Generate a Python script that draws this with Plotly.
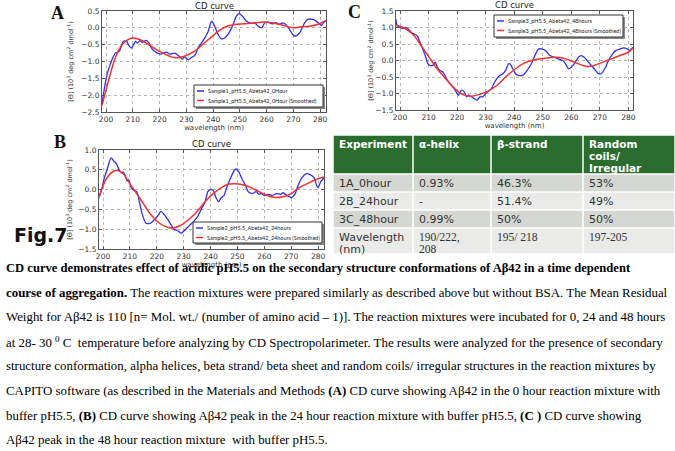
import plotly.graph_objects as go

W, H = 675, 451

# ---------------- data ----------------
# Panel A (0 hour)
a_raw_x = [198.5, 199.5, 200.5, 201.5, 202.5, 203.5, 204.3, 205.0, 205.7, 206.5, 207.7, 208.5, 209.5, 210.3, 211.0, 211.7, 212.7, 213.6, 215.0, 216.0, 217.0, 218.2, 219.5, 220.5, 221.4, 222.6, 223.8, 225.7, 227.0, 227.6, 228.6, 229.3, 230.7, 231.9, 233.2, 234.4, 235.7, 236.9, 238.2, 239.0, 239.5, 240.6, 241.9, 243.1, 244.3, 245.3, 246.2, 247.5, 248.7, 249.7, 250.9, 252.4, 254.3, 255.5, 256.8, 258.2, 259.3, 260.5, 262.0, 263.6, 264.8, 266.0, 267.2, 268.6, 269.8, 270.8, 272.3, 274.2, 275.4, 277.3, 278.5, 280.0, 280.6, 281.2, 282.2]
a_raw_y = [-2.25, -1.75, -1.35, -1.1, -0.9, -0.75, -0.72, -0.7, -0.55, -0.4, -0.4, -0.52, -0.6, -0.5, -0.4, -0.45, -0.38, -0.43, -0.37, -0.45, -0.6, -0.7, -0.76, -0.78, -0.75, -0.72, -0.78, -0.75, -0.82, -0.86, -0.93, -0.86, -0.95, -0.88, -0.82, -0.6, -0.45, -0.3, -0.1, 0.12, 0.2, 0.05, -0.2, -0.33, -0.3, -0.22, -0.12, 0.1, 0.35, 0.42, 0.35, 0.2, 0.13, 0.15, 0.05, 0.0, 0.15, 0.17, 0.12, 0.15, 0.1, 0.15, 0.1, -0.05, -0.2, -0.25, -0.15, 0.15, 0.25, 0.25, 0.2, 0.1, 0.07, 0.15, 0.22]
a_smooth_x = [198.5, 200.0, 201.5, 203.0, 204.5, 206.0, 208.0, 210.0, 213.0, 216.0, 220.0, 224.0, 226.0, 229.0, 233.0, 236.0, 239.0, 242.0, 245.0, 248.0, 252.0, 256.0, 259.0, 262.0, 265.0, 268.0, 270.0, 273.0, 276.0, 279.0, 282.2]
a_smooth_y = [-2.3, -1.85, -1.4, -1.0, -0.7, -0.5, -0.36, -0.3, -0.36, -0.5, -0.7, -0.85, -0.89, -0.85, -0.7, -0.5, -0.3, -0.1, 0.04, 0.1, 0.12, 0.15, 0.17, 0.15, 0.1, 0.03, 0.0, 0.03, 0.05, 0.1, 0.22]

# Panel B (24 hours)
b_raw_x = [198.5, 199.5, 200.5, 201.5, 203.0, 204.0, 205.0, 206.0, 207.0, 207.5, 208.5, 209.0, 209.5, 210.5, 211.5, 212.5, 213.5, 214.5, 216.0, 217.5, 218.5, 220.5, 221.5, 223.0, 224.5, 226.5, 228.0, 229.0, 230.0, 231.5, 233.0, 235.0, 236.5, 238.0, 239.0, 240.0, 241.0, 242.0, 243.0, 244.0, 245.0, 246.0, 247.5, 249.0, 249.5, 250.5, 251.5, 253.0, 254.0, 255.5, 257.0, 258.0, 259.0, 260.0, 261.5, 263.0, 264.5, 266.0, 267.0, 268.5, 270.0, 271.5, 272.5, 274.0, 275.5, 277.0, 278.5, 279.5, 280.0, 281.0, 282.2]
b_raw_y = [-0.2, 0.0, 0.3, 0.5, 0.8, 0.72, 0.65, 0.5, 0.42, 0.45, 0.3, 0.22, 0.25, 0.05, -0.02, -0.05, -0.3, -0.6, -0.85, -0.85, -0.8, -0.65, -0.55, -0.65, -0.8, -1.0, -1.05, -1.1, -1.05, -0.95, -0.85, -0.7, -0.5, -0.3, -0.05, 0.0, -0.02, -0.2, -0.3, -0.2, -0.15, 0.05, 0.3, 0.5, 0.52, 0.45, 0.3, 0.1, -0.05, -0.1, -0.05, -0.12, -0.1, -0.15, -0.12, -0.15, -0.1, -0.12, -0.08, -0.15, -0.2, -0.1, 0.1, 0.3, 0.4, 0.38, 0.3, 0.1, 0.05, 0.2, 0.3]
b_smooth_x = [198.5, 200.0, 202.0, 204.0, 205.5, 207.5, 209.5, 212.0, 215.0, 218.0, 221.0, 224.0, 226.0, 229.0, 232.0, 235.0, 238.0, 241.0, 244.0, 247.0, 249.0, 252.0, 255.0, 258.0, 261.0, 264.0, 267.0, 270.0, 273.0, 276.0, 279.0, 282.2]
b_smooth_y = [-0.2, 0.1, 0.35, 0.47, 0.48, 0.4, 0.2, -0.05, -0.35, -0.65, -0.85, -0.95, -0.97, -0.9, -0.75, -0.55, -0.3, -0.1, 0.05, 0.14, 0.15, 0.12, 0.05, -0.05, -0.15, -0.2, -0.18, -0.1, 0.05, 0.15, 0.25, 0.32]

# Panel C (48 hours)
c_raw_x = [198.6, 199.0, 200.0, 201.0, 202.0, 203.0, 204.0, 205.0, 206.0, 207.0, 208.0, 209.0, 209.8, 210.5, 211.5, 212.3, 213.0, 214.0, 215.0, 216.0, 217.0, 218.0, 219.0, 220.0, 220.5, 221.5, 222.5, 223.3, 224.0, 225.0, 226.0, 227.0, 228.0, 229.0, 230.0, 232.0, 233.5, 235.0, 236.0, 237.0, 238.0, 238.5, 239.5, 240.5, 241.5, 243.0, 244.5, 246.0, 247.5, 248.5, 249.5, 251.0, 252.5, 254.0, 255.5, 257.0, 258.0, 259.0, 260.0, 261.0, 262.5, 263.5, 264.5, 266.0, 268.0, 269.5, 270.5, 272.0, 273.0, 274.5, 275.5, 277.0, 278.5, 279.5, 280.5, 281.0, 281.6]
c_raw_y = [1.25, 1.05, 1.0, 0.97, 1.0, 0.95, 0.85, 0.8, 0.75, 0.55, 0.35, 0.1, -0.1, -0.15, -0.15, -0.05, -0.2, -0.3, -0.35, -0.5, -0.65, -0.75, -0.85, -1.0, -1.05, -0.9, -0.95, -1.1, -1.05, -1.1, -1.15, -1.2, -1.1, -1.1, -1.0, -0.85, -0.6, -0.45, -0.4, -0.3, -0.1, -0.1, -0.25, -0.4, -0.45, -0.45, -0.3, -0.1, 0.2, 0.35, 0.35, 0.3, 0.15, 0.1, 0.05, 0.0, -0.1, -0.25, -0.2, -0.1, 0.1, 0.15, 0.1, -0.05, -0.25, -0.4, -0.4, -0.2, 0.0, 0.2, 0.3, 0.35, 0.38, 0.35, 0.3, 0.35, 0.4]
c_smooth_x = [198.6, 201.0, 203.0, 205.0, 207.0, 209.0, 211.0, 213.0, 215.5, 218.0, 220.5, 222.5, 225.0, 228.0, 231.0, 234.0, 237.0, 240.0, 243.0, 246.0, 249.0, 252.0, 255.0, 258.0, 261.0, 264.0, 266.0, 268.0, 271.0, 274.0, 277.0, 280.0, 281.6]
c_smooth_y = [1.08, 1.0, 0.9, 0.75, 0.5, 0.25, 0.0, -0.25, -0.5, -0.75, -0.95, -1.05, -1.08, -1.02, -0.92, -0.75, -0.5, -0.28, -0.1, 0.0, 0.05, 0.08, 0.1, 0.05, -0.05, -0.15, -0.18, -0.15, -0.05, 0.05, 0.15, 0.25, 0.38]

series_names = {
    "A": ("Sample1_pH5.5_Abeta42_0Hour", "Sample1_pH5.5_Abeta42_0Hour (Smoothed)"),
    "B": ("Sample2_pH5.5_Abeta42_24hours", "Sample2_pH5.5_Abeta42_24hours (Smoothed)"),
    "C": ("Sample3_pH5.5_Abeta42_48hours", "Sample3_pH5.5_Abeta42_48hours (Smoothed)"),
}

x_ticks = [200, 210, 220, 230, 240, 250, 260, 270, 280]
a_yticks = [-2.5, -2.0, -1.5, -1.0, -0.5, 0.0, 0.5]
b_yticks = [-1.5, -1.0, -0.5, 0.0, 0.5, 1.0]
c_yticks = [-1.5, -1.0, -0.5, 0.0, 0.5, 1.0, 1.5]

# table
tbl_header = ["Experiment", "α-helix", "β-strand", "Random<br>coils/<br>Irregular"]
tbl_experiment = ["1A_0hour", "2B_24hour", "3C_48hour", "Wavelength<br>(nm)"]
tbl_alpha = ["0.93%", "-", "0.99%", "190/222,<br>208"]
tbl_beta = ["46.3%", "51.4%", "50%", "195/ 218"]
tbl_random = ["53%", "49%", "50%", "197-205"]

caption_lines = [
    "<b>CD curve demonstrates effect of acidic pH5.5 on the secondary structure conformations of Aβ42 in a time dependent</b>",
    "<b>course of aggregation.</b> The reaction mixtures were prepared similarly as described above but without BSA. The Mean Residual",
    "Weight for Aβ42 is 110 [n= Mol. wt./ (number of amino acid – 1)]. The reaction mixtures were incubated for 0, 24 and 48 hours",
    "at 28- 30 <sup>0</sup> C  temperature before analyzing by CD Spectropolarimeter. The results were analyzed for the presence of secondary",
    "structure conformation, alpha helices, beta strand/ beta sheet and random coils/ irregular structures in the reaction mixtures by",
    "CAPITO software (as described in the Materials and Methods <b>(A)</b> CD curve showing Aβ42 in the 0 hour reaction mixture with",
    "buffer pH5.5, <b>(B)</b> CD curve showing Aβ42 peak in the 24 hour reaction mixture with buffer pH5.5, <b>(C )</b> CD curve showing",
    "Aβ42 peak in the 48 hour reaction mixture  with buffer pH5.5.",
]

# ---------------- figure ----------------
BLUE = "#3030f0"
RED = "#f03232"

def px_x(p):
    return p / W

def px_y(p):
    return 1 - p / H

fig = go.Figure()

panels = [
    ("A", "x", "y", a_raw_x, a_raw_y, a_smooth_x, a_smooth_y),
    ("B", "x2", "y2", b_raw_x, b_raw_y, b_smooth_x, b_smooth_y),
    ("C", "x3", "y3", c_raw_x, c_raw_y, c_smooth_x, c_smooth_y),
]
for key, xa, ya, rx, ry, sx, sy in panels:
    fig.add_trace(go.Scatter(x=rx, y=ry, mode="lines", name=series_names[key][0],
                             line=dict(color=BLUE, width=1.3, shape="spline", smoothing=0.8),
                             xaxis=xa, yaxis=ya))
    fig.add_trace(go.Scatter(x=sx, y=sy, mode="lines", name=series_names[key][1],
                             line=dict(color=RED, width=1.5, shape="spline", smoothing=1.0),
                             xaxis=xa, yaxis=ya))

axis_common = dict(showline=True, linecolor="#555555", linewidth=1, mirror="allticks",
                   ticks="inside", ticklen=3, tickcolor="#555555",
                   showgrid=True, gridcolor="#b5b5b5", griddash="dot", gridwidth=0.8,
                   zeroline=False, automargin=False,
                   tickfont=dict(family="DejaVu Sans", size=7.5, color="#333333"))

def xt():
    return dict(text="wavelength (nm)", font=dict(family="DejaVu Sans", size=7, color="#333333"), standoff=1)

def yt(standoff):
    return dict(text="[Θ] (10<sup>3</sup> deg cm<sup>2</sup> dmol<sup>-1</sup>)",
                font=dict(family="DejaVu Sans", size=6.5, color="#333333"), standoff=standoff)

fig.update_layout(
    width=W, height=H, margin=dict(l=0, r=0, t=0, b=0), showlegend=False,
    paper_bgcolor="white", plot_bgcolor="white",
    xaxis=dict(domain=[px_x(102), px_x(326)], range=[198.5, 282.2], tickvals=x_ticks, anchor="y", title=xt(), **axis_common),
    yaxis=dict(domain=[px_y(112), px_y(11)], range=[-2.5, 0.5], tickvals=a_yticks, tickformat=".1f", anchor="x", title=yt(7), **axis_common),
    xaxis2=dict(domain=[px_x(99), px_x(324)], range=[198.5, 282.2], tickvals=x_ticks, anchor="y2", title=xt(), **axis_common),
    yaxis2=dict(domain=[px_y(249), px_y(150)], range=[-1.5, 1.0], tickvals=b_yticks, tickformat=".1f", anchor="x2", title=yt(5), **axis_common),
    xaxis3=dict(domain=[px_x(396), px_x(633)], range=[198.6, 281.6], tickvals=x_ticks, anchor="y3", title=xt(), **axis_common),
    yaxis3=dict(domain=[px_y(110), px_y(11)], range=[-1.5, 1.5], tickvals=c_yticks, tickformat=".1f", anchor="x3", title=yt(0), **axis_common),
)

shapes = []
ann = []

# ---- manual legends (matplotlib style box with shadow) ----
legend_boxes = {"A": (194, 85, 323, 107), "B": (193, 222, 322, 243), "C": (494, 15, 623, 37)}
for key, (x0, y0, x1, y1) in legend_boxes.items():
    shapes.append(dict(type="rect", xref="paper", yref="paper", x0=px_x(x0 + 2), x1=px_x(x1 + 2),
                       y0=px_y(y1 + 2), y1=px_y(y0 + 2), fillcolor="#8a8a8a", line=dict(width=0)))
    shapes.append(dict(type="rect", xref="paper", yref="paper", x0=px_x(x0), x1=px_x(x1),
                       y0=px_y(y1), y1=px_y(y0), fillcolor="white", line=dict(color="#333333", width=1)))
    for i, (name, col) in enumerate(zip(series_names[key], [BLUE, RED])):
        yy = y0 + 6 + 9.5 * i
        shapes.append(dict(type="line", xref="paper", yref="paper", x0=px_x(x0 + 3), x1=px_x(x0 + 10),
                           y0=px_y(yy), y1=px_y(yy), line=dict(color=col, width=1.5)))
        ann.append(dict(text=name, x=px_x(x0 + 12), y=px_y(yy), xref="paper", yref="paper",
                        showarrow=False, xanchor="left", yanchor="middle",
                        font=dict(family="Lato", size=5.5, color="#222222")))

# ---- table (built from the table arrays) ----
col_edges = [333, 413, 491, 583, 675]
row_edges = [135, 174, 192, 210, 228, 254]
row_fills = ["#2b6d2f", "#d4d7d2", "#eaebe9", "#d4d7d2", "#eaebe9"]
table_rows = [tbl_header] + [list(r) for r in zip(tbl_experiment, tbl_alpha, tbl_beta, tbl_random)]
for r, row in enumerate(table_rows):
    for c, val in enumerate(row):
        shapes.append(dict(type="rect", xref="paper", yref="paper",
                           x0=px_x(col_edges[c] + 0.75), x1=px_x(col_edges[c + 1] - 0.75),
                           y0=px_y(row_edges[r + 1] - 0.75), y1=px_y(row_edges[r] + 0.75),
                           fillcolor=row_fills[r], line=dict(width=0)))
        if r == 0:
            fnt = dict(family="DejaVu Sans", size=10.5, color="white")
            val_fmt = "<b>%s</b>"
        elif r == len(table_rows) - 1 and c > 0:
            fnt = dict(family="Liberation Serif", size=11.5, color="#333333")
            val_fmt = "%s"
        else:
            fnt = dict(family="DejaVu Sans", size=11, color="#333333")
            val_fmt = "%s"
        for i, part in enumerate(val.split("<br>")):
            ann.append(dict(text=val_fmt % part, x=px_x(col_edges[c] + 4), y=px_y(row_edges[r] + 9 + 12 * i),
                            xref="paper", yref="paper", showarrow=False, xanchor="left", yanchor="middle",
                            font=fnt))

# subplot titles
for cx, cy in [(214, 6), (211.5, 144), (514, 5)]:
    ann.append(dict(text="CD curve", x=px_x(cx), y=px_y(cy), xref="paper", yref="paper",
                    showarrow=False, xanchor="center", yanchor="middle",
                    font=dict(family="DejaVu Sans", size=8.5, color="#222222")))
# panel letters
for t, cx, cy in [("A", 58, 13), ("B", 60, 142), ("C", 354, 12)]:
    ann.append(dict(text="<b>%s</b>" % t, x=px_x(cx), y=px_y(cy), xref="paper", yref="paper",
                    showarrow=False, xanchor="center", yanchor="middle",
                    font=dict(family="Liberation Serif", size=18, color="#111111")))
ann.append(dict(text="<b>Fig.7</b>", x=px_x(12), y=px_y(235), xref="paper", yref="paper",
                showarrow=False, xanchor="left", yanchor="middle",
                font=dict(family="DejaVu Sans", size=19, color="#111111")))
# caption
y0, dy = 268, 24.6
for i, line in enumerate(caption_lines):
    ann.append(dict(text=line, x=px_x(4), y=px_y(y0 + i * dy), xref="paper", yref="paper",
                    showarrow=False, xanchor="left", yanchor="middle", align="left",
                    font=dict(family="Liberation Serif", size=12.6 if i == 0 else 12.9, color="#000000")))

fig.update_layout(shapes=shapes, annotations=ann)

fig.write_html("out.html", config={"displayModeBar": False},
               post_script="document.body.style.margin='0';")
